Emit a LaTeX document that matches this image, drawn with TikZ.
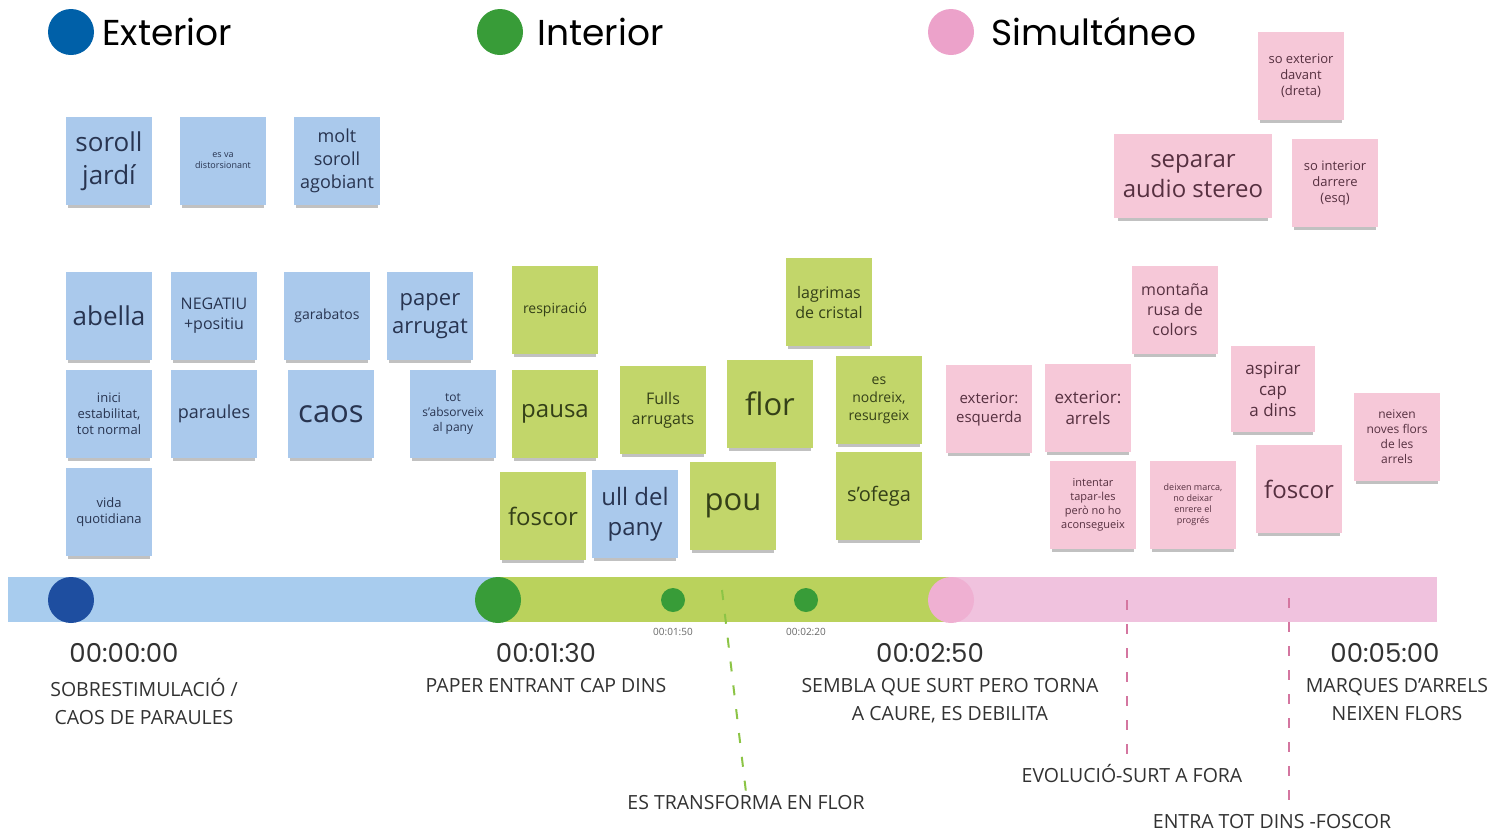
\documentclass[tikz,border=0pt]{standalone}
\usepackage{fontspec}
\setmainfont{Open Sans}
\newfontfamily\hdfont{Poppins}
\usetikzlibrary{positioning,shadows}
\definecolor{extblue}{RGB}{0,96,168}
\definecolor{lineblue}{RGB}{30,78,160}
\definecolor{intgreen}{RGB}{56,156,56}
\definecolor{simpink}{RGB}{236,162,202}
\definecolor{notebl}{RGB}{170,201,236}
\definecolor{notegr}{RGB}{194,214,106}
\definecolor{notepk}{RGB}{246,200,216}
\definecolor{txtbl}{RGB}{40,52,80}
\definecolor{txtgr}{RGB}{52,64,24}
\definecolor{txtpk}{RGB}{86,48,64}
\definecolor{barbl}{RGB}{168,204,238}
\definecolor{bargr}{RGB}{186,210,92}
\definecolor{barpk}{RGB}{240,194,222}
\definecolor{dashgr}{RGB}{140,196,70}
\definecolor{dashpk}{RGB}{212,118,160}
\definecolor{capgray}{RGB}{50,50,50}
\newcommand\nfs[1]{\fontsize{#1}{\the\numexpr#1*5/4\relax}\selectfont}
\tikzset{
  note/.style ={rectangle, minimum width=86pt, minimum height=88pt, inner sep=2pt, align=center,
                drop shadow={shadow xshift=0pt, shadow yshift=-5pt, shadow scale=0.95, opacity=.35, fill=black!70}},
  bnote/.style={note, fill=notebl, text=txtbl},
  gnote/.style={note, fill=notegr, text=txtgr},
  pnote/.style={note, fill=notepk, text=txtpk},
  dot/.style  ={circle, inner sep=0pt, minimum size=#1},
  hd/.style   ={inner sep=0pt, anchor=west, font=\hdfont\fontsize{36}{40}\selectfont},
  tstamp/.style={font=\hdfont\fontsize{26}{30}\selectfont, text=capgray},
  caption/.style={align=center, font=\fontsize{19.5}{28}\selectfont, text=capgray},
  small/.style={font=\fontsize{10}{11}\selectfont, text=black!60},
  turn/.style ={line width=2pt, dash pattern=on 10pt off 14pt}
}
\begin{document}
\begin{tikzpicture}[x=1pt, y=-1pt]
\useasboundingbox (0,0) rectangle (1496,831);
% header
\node[dot=46pt, fill=extblue] (extdot) at (71,32) {};
\node[hd, right=8pt of extdot] (exthd) {Exterior};
\node[dot=46pt, fill=intgreen] (intdot) at (500,32) {};
\node[hd, right=14pt of intdot] (inthd) {Interior};
\node[dot=46pt, fill=simpink] (simdot) at (951,32) {};
\node[hd, right=17pt of simdot] (simhd) {Simultáneo};

% exterior notes
\node[bnote, font=\nfs{26}] (soroll)   at (109,161) {soroll\\jardí};
\node[bnote, font=\nfs{9}]  (distors)  at (223,161) {es va\\distorsionant};
\node[bnote, font=\nfs{18}] (molt)     at (337,161) {molt\\soroll\\agobiant};
\node[bnote, font=\nfs{26}] (abella)   at (109,316) {abella};
\node[bnote, font=\nfs{16}] (negatiu)  at (214,316) {NEGATIU\\+positiu};
\node[bnote, font=\nfs{14}] (garabat)  at (327,316) {garabatos};
\node[bnote, font=\nfs{22}] (paper)    at (430,316) {paper\\arrugat};
\node[bnote, font=\nfs{13}] (inici)    at (109,414) {inici\\estabilitat,\\tot normal};
\node[bnote, font=\nfs{18}] (paraules) at (214,414) {paraules};
\node[bnote, font=\nfs{31}] (caos)     at (331,414) {caos};
\node[bnote, font=\nfs{12}] (absorv)   at (453,414) {tot\\s'absorveix\\al pany};
\node[bnote, font=\nfs{13}] (vida)     at (109,512) {vida\\quotidiana};

% interior notes
\node[gnote, font=\nfs{14}] (respir)   at (555,310) {respiració};
\node[gnote, font=\nfs{16}] (lagrim)   at (829,302) {lagrimas\\de cristal};
\node[gnote, font=\nfs{24}] (pausa)    at (555,414) {pausa};
\node[gnote, font=\nfs{16}] (fulls)    at (663,410) {Fulls\\arrugats};
\node[gnote, font=\nfs{31}] (flor)     at (770,404) {flor};
\node[gnote, font=\nfs{14}] (nodreix)  at (879,400) {es\\nodreix,\\resurgeix};
\node[gnote, font=\nfs{24}] (foscorg)  at (543,516) {foscor};
\node[bnote, font=\nfs{24}] (ullpany)  at (635,514) {ull del\\pany};
\node[gnote, font=\nfs{31}] (pou)      at (733,506) {pou};
\node[gnote, font=\nfs{20}] (ofega)    at (879,496) {s'ofega};

% simultaneo notes
\node[pnote, font=\nfs{13}] (soext)    at (1301,76)  {so exterior\\davant\\(dreta)};
\node[pnote, font=\nfs{24}, minimum width=158pt, minimum height=84pt] (separar) at (1193,176) {separar\\audio stereo};
\node[pnote, font=\nfs{13}] (soint)    at (1335,183) {so interior\\darrere\\(esq)};
\node[pnote, font=\nfs{16}] (montana)  at (1175,310) {montaña\\rusa de\\colors};
\node[pnote, font=\nfs{17}, minimum width=84pt, minimum height=86pt] (aspirar) at (1273,389) {aspirar\\cap\\a dins};
\node[pnote, font=\nfs{15}] (extesq)   at (989,409)  {exterior:\\esquerda};
\node[pnote, font=\nfs{17}] (extarr)   at (1088,408) {exterior:\\arrels};
\node[pnote, font=\nfs{12}] (neixen)   at (1397,437) {neixen\\noves flors\\de les\\arrels};
\node[pnote, font=\nfs{11}] (intentar) at (1093,505) {intentar\\tapar-les\\però no ho\\aconsegueix};
\node[pnote, font=\nfs{9}]  (deixen)   at (1193,505) {deixen marca,\\no deixar\\enrere el\\progrés};
\node[pnote, font=\nfs{24}] (foscorp)  at (1299,489) {foscor};

% timeline
\fill[barbl] (8,577) rectangle (498,622);
\fill[bargr] (498,577) rectangle (951,622);
\fill[barpk] (951,577) rectangle (1437,622);
\node[dot=46pt, fill=lineblue] (t0) at (71,600) {};
\node[dot=46pt, fill=intgreen] (t1) at (498,600) {};
\node[dot=46pt, fill=simpink!85] (t2) at (951,600) {};
\node[dot=24pt, fill=intgreen] (t150) at (673,600) {};
\node[dot=24pt, fill=intgreen] (t220) at (806,600) {};
\node[small, below=13pt of t150] {00:01:50};
\node[small, below=13pt of t220] {00:02:20};

\node[tstamp] (ts0) at (124,653) {00:00:00};
\node[caption, anchor=north] (c0) at (144,675) {SOBRESTIMULACIÓ /\\CAOS DE PARAULES};
\node[tstamp] (ts1) at (546,653) {00:01:30};
\node[caption, anchor=north] (c1) at (546,675) {PAPER ENTRANT CAP DINS};
\node[tstamp] (ts2) at (930,653) {00:02:50};
\node[caption, anchor=north] (c2) at (950,675) {SEMBLA QUE SURT PERO TORNA\\A CAURE, ES DEBILITA};
\node[tstamp] (ts3) at (1385,653) {00:05:00};
\node[caption, anchor=north] (c3) at (1397,675) {MARQUES D'ARRELS\\NEIXEN FLORS};

% turning points
\coordinate (gtop) at (722,590);
\coordinate (ptop1) at (1127,600);
\coordinate (ptop2) at (1289,598);
\node[caption] (flortxt) at (746,803) {ES TRANSFORMA EN FLOR};
\node[caption] (evoltxt) at (1132,774) {EVOLUCIÓ-SURT A FORA};
\node[caption] (dinstxt) at (1272,822) {ENTRA TOT DINS -FOSCOR};
\draw[turn, dashgr] (gtop) -- (flortxt.north -| 746,0);
\draw[turn, dashpk] (ptop1) -- (ptop1 |- evoltxt.north);
\draw[turn, dashpk] (ptop2) -- (1289,800);
\end{tikzpicture}
\end{document}
